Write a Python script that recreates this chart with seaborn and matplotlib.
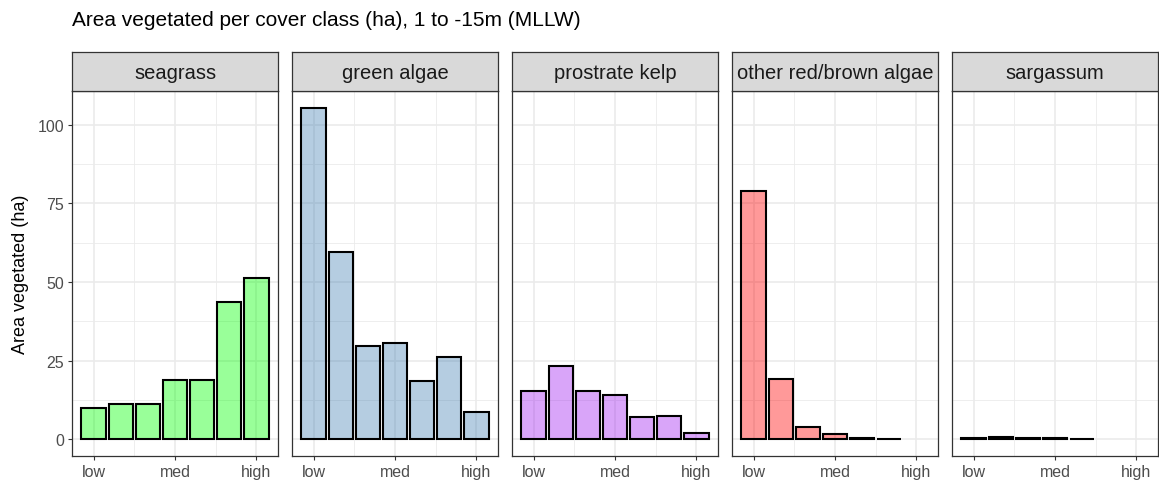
"""Area vegetated per cover class, faceted bar chart."""
import numpy as np
import pandas as pd
import matplotlib
matplotlib.use("Agg")
import matplotlib.pyplot as plt
from matplotlib.colors import to_rgba
from matplotlib.ticker import FixedLocator
import seaborn as sns

# data
classes = ["seagrass", "green algae", "prostrate kelp", "other red/brown algae", "sargassum"]
seagrass = [10.1, 11.1, 11.1, 18.9, 18.8, 43.5, 51.2]
green_algae = [105.4, 59.6, 29.7, 30.5, 18.6, 26.2, 8.8]
prostrate_kelp = [15.4, 23.3, 15.4, 14.2, 7.1, 7.5, 2.0]
other_red_brown = [78.9, 19.1, 4.1, 1.6, 0.6, 0.2]
sargassum = [0.4, 0.9, 0.5, 0.5, 0.2]
fill_colors = ["#00FF00", "steelblue", "#A020F0", "red", "goldenrod"]
tick_labels = ["low", "med", "high"]
tick_positions = [1, 4, 7]

series = [seagrass, green_algae, prostrate_kelp, other_red_brown, sargassum]
df = pd.concat([
    pd.DataFrame({"veg_class": name, "cover": np.arange(1, len(vals) + 1), "area": vals})
    for name, vals in zip(classes, series)
], ignore_index=True)

sns.set_style("white")
plt.rcParams["font.family"] = ["Liberation Sans", "DejaVu Sans"]

W, H = 1159, 485
fig = plt.figure(figsize=(W / 100, H / 100), dpi=100)

panel_top, panel_bottom = 92, 457
strip_top = 53
panel_w = 206

y_max = df["area"].max()
y_lim = (-0.05 * y_max, 1.05 * y_max)
x_lim = (0.55 - 0.345, 7.45 + 0.345)

for idx, name in enumerate(classes):
    left = 72 + 220 * idx
    ax = fig.add_axes([left / W, (H - panel_bottom) / H, panel_w / W, (panel_bottom - panel_top) / H])
    sub = df[df["veg_class"] == name]
    sns.barplot(data=sub, x="cover", y="area", native_scale=True, width=0.9,
                color=fill_colors[idx], errorbar=None, ax=ax,
                edgecolor="black", linewidth=1.5)
    for p in ax.patches:
        p.set_facecolor(to_rgba(fill_colors[idx], 0.4))
        p.set_edgecolor("black")

    ax.set_xlim(*x_lim)
    ax.set_ylim(*y_lim)
    ax.xaxis.set_major_locator(FixedLocator(tick_positions))
    ax.set_xticklabels(tick_labels)
    ax.xaxis.set_minor_locator(FixedLocator([2.5, 5.5]))
    ax.yaxis.set_major_locator(FixedLocator([0, 25, 50, 75, 100]))
    ax.yaxis.set_minor_locator(FixedLocator([12.5, 37.5, 62.5, 87.5]))
    ax.set_axisbelow(True)
    ax.grid(True, which="major", color="#EBEBEB", linewidth=1.2)
    ax.grid(True, which="minor", color="#EBEBEB", linewidth=0.6)
    ax.tick_params(which="major", direction="out", length=3.2, width=0.8, color="#333333",
                   labelsize=11.5, labelcolor="#4D4D4D", pad=2.5)
    ax.tick_params(which="minor", length=0)
    ax.tick_params(axis="x", bottom=True)
    for sp in ax.spines.values():
        sp.set_visible(True)
        sp.set_color("#333333")
        sp.set_linewidth(0.9)
    ax.set_xlabel("")
    if idx == 0:
        ax.tick_params(axis="y", left=True)
        ax.set_ylabel("Area vegetated (ha)", fontsize=13, color="black", labelpad=6)
    else:
        ax.tick_params(axis="y", left=False, labelleft=False)
        ax.set_ylabel("")

    # facet strip
    sax = fig.add_axes([left / W, (H - panel_top) / H, panel_w / W, (panel_top - strip_top) / H])
    sax.set_facecolor("#D9D9D9")
    sax.set_xticks([])
    sax.set_yticks([])
    for sp in sax.spines.values():
        sp.set_visible(True)
        sp.set_color("#333333")
        sp.set_linewidth(0.9)
    sax.text(0.5, 0.47, name, ha="center", va="center", fontsize=14.5,
             color="#1A1A1A", transform=sax.transAxes)

fig.text(72 / W, 1 - 26 / H, "Area vegetated per cover class (ha), 1 to -15m (MLLW)",
         fontsize=15, color="black", ha="left", va="baseline")

fig.savefig("out.png", dpi=100)
